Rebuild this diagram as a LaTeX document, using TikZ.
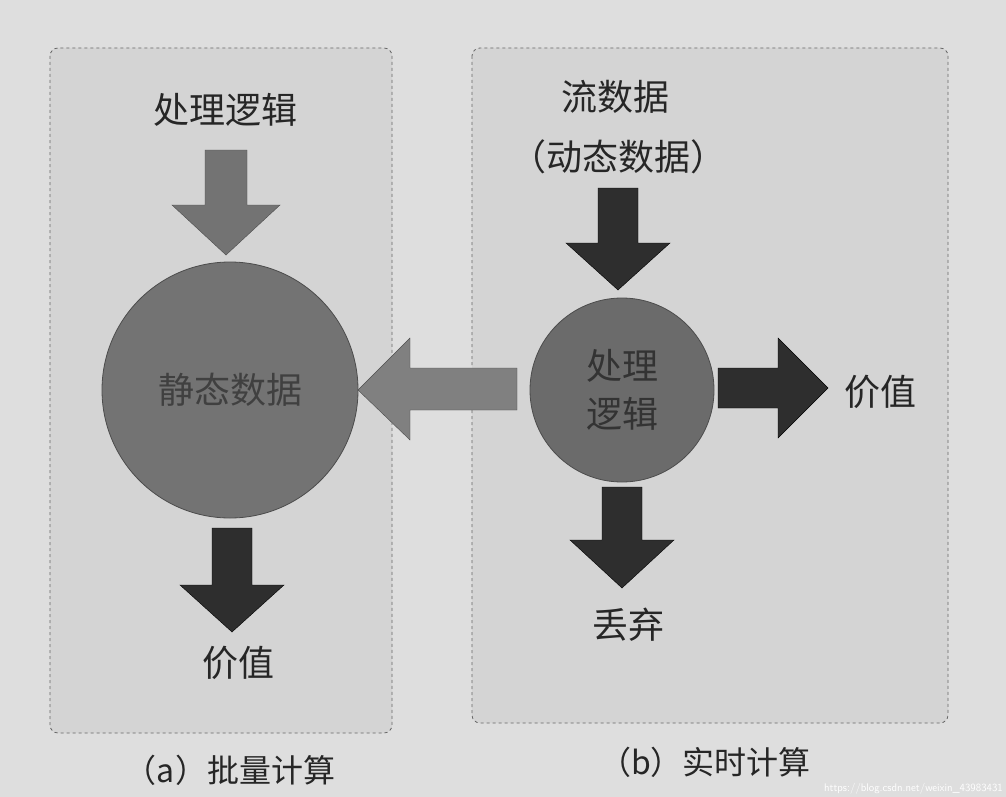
\documentclass[tikz,border=0pt]{standalone}
\usepackage{fontspec}
\newfontfamily\cjk{Noto Sans CJK SC}
\begin{document}
\begin{tikzpicture}[x=1pt,y=-1pt,
  panel/.style={draw=black!60,dashed,rounded corners=8pt,fill=black!17,line width=0.8pt},
  lbl/.style={font=\cjk\fontsize{36}{40}\selectfont,text=black!85},
  captxt/.style={font=\cjk\fontsize{32}{36}\selectfont,text=black!85},
  ball/.style={circle,draw=black!70,line width=0.8pt},
  garrow/.style={fill=black!55,draw=black!70},
  darrow/.style={fill=black!82,draw=black}]
\fill[black!13] (0,0) rectangle (1006,797);
\useasboundingbox (0,0) rectangle (1006,797);
\draw[panel] (50,48) rectangle (392,733);
\draw[panel] (472,48) rectangle (948,723);
% left
\node[lbl] (l1) at (225,110) {处理逻辑};
\draw[garrow] (205,150) -- (247,150) -- (247,205) -- (280,205) -- (226,255) -- (172,205) -- (205,205) -- cycle;
\node[ball,fill=black!55,minimum size=256pt] (c1) at (230,390) {};
\node[lbl,text=black!75] (t1) at (c1) {静态数据};
\draw[darrow] (212,528) -- (252,528) -- (252,585) -- (284,585) -- (232,632) -- (180,585) -- (212,585) -- cycle;
\node[lbl] (v1) at (238,663) {价值};
\node[captxt] (ca) at (230,770) {（a）批量计算};
% right
\node[lbl] (r1) at (615,97) {流数据};
\node[lbl] (r2) at (618,157) {（动态数据）};
\draw[darrow] (598,188) -- (638,188) -- (638,243) -- (670,243) -- (618,290) -- (566,243) -- (598,243) -- cycle;
\node[ball,fill=black!58,minimum size=184pt] (c2) at (622,390) {};
\node[lbl,text=black!80,align=center,font=\cjk\fontsize{36}{48}\selectfont] (t2) at (c2) {处理\\逻辑};
\draw[darrow] (718,368) -- (778,368) -- (778,338) -- (828,388) -- (778,438) -- (778,408) -- (718,408) -- cycle;
\node[lbl] (v2) at (880,392) {价值};
\draw[darrow] (602,487) -- (642,487) -- (642,540) -- (674,540) -- (622,588) -- (570,540) -- (602,540) -- cycle;
\node[lbl] (d2) at (628,625) {丢弃};
\draw[garrow,fill=black!50] (517,368) -- (410,368) -- (410,338) -- (358,390) -- (410,440) -- (410,410) -- (517,410) -- cycle;
\node[captxt] (cb) at (705,762) {（b）实时计算};
\node[font=\sffamily\fontsize{11}{12}\selectfont,text=white,anchor=east,inner sep=1pt] (wm) at (1004,789) {https://blog.csdn.net/weixin\_43983431};
\end{tikzpicture}
\end{document}
